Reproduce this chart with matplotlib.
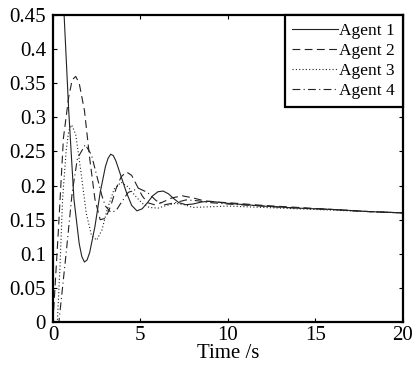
import matplotlib
matplotlib.use("Agg")
import matplotlib.pyplot as plt

# values
t1 = [0, 0.3, 0.6, 0.9, 1.2, 1.5, 1.65, 1.8, 1.95, 2.1, 2.4, 2.7, 3.0, 3.15, 3.3, 3.45, 3.6,
      3.9, 4.2, 4.5, 4.8, 5.1, 5.4, 5.7, 6.0, 6.3, 6.6, 6.9, 7.2, 7.6, 8.0, 8.5, 9, 10,
      12, 14, 16, 18, 20]
agent1 = [0.70, 0.62, 0.47, 0.31, 0.18, 0.115, 0.096, 0.088, 0.091, 0.102, 0.14, 0.19,
          0.228, 0.240, 0.246, 0.244, 0.236, 0.213, 0.19, 0.171, 0.163, 0.166, 0.175,
          0.185, 0.191, 0.192, 0.188, 0.181, 0.175, 0.172, 0.173, 0.176, 0.177, 0.174,
          0.170, 0.167, 0.165, 0.162, 0.160]

t2 = [0, 0.3, 0.6, 0.9, 1.1, 1.3, 1.5, 1.8, 2.1, 2.4, 2.7, 3.0, 3.3, 3.6, 3.9, 4.2, 4.5,
      4.8, 5.1, 5.4, 5.8, 6.2, 6.8, 7.4, 8.0, 8.6, 9.2, 10, 12, 14, 16, 18, 20]
agent2 = [0.0, 0.13, 0.27, 0.33, 0.355, 0.36, 0.35, 0.31, 0.24, 0.18, 0.15, 0.152, 0.17,
          0.195, 0.213, 0.22, 0.215, 0.20, 0.185, 0.175, 0.172, 0.175, 0.182, 0.185, 0.182,
          0.178, 0.176, 0.175, 0.171, 0.168, 0.165, 0.162, 0.160]

t3 = [0, 0.25, 0.4, 0.55, 0.75, 0.9, 1.07, 1.3, 1.6, 1.9, 2.2, 2.5, 2.8, 3.1, 3.5, 3.9,
      4.3, 4.7, 5.1, 5.5, 6.0, 6.5, 7.0, 7.5, 8.0, 9, 10, 12, 14, 16, 18, 20]
agent3 = [-0.05, 0.0, 0.08, 0.18, 0.25, 0.28, 0.289, 0.275, 0.22, 0.16, 0.127, 0.12, 0.135,
          0.165, 0.195, 0.205, 0.198, 0.185, 0.174, 0.168, 0.167, 0.171, 0.174, 0.172,
          0.168, 0.169, 0.170, 0.168, 0.166, 0.164, 0.162, 0.160]

t4 = [0, 0.34, 0.75, 1.1, 1.4, 1.85, 2.2, 2.5, 2.8, 3.0, 3.3, 3.6, 3.9, 4.3, 4.9, 5.4,
      5.9, 6.4, 7.0, 7.6, 8.2, 9, 10, 12, 14, 16, 18, 20]
agent4 = [-0.05, 0.0, 0.10, 0.19, 0.24, 0.26, 0.245, 0.215, 0.185, 0.17, 0.161, 0.163,
          0.175, 0.19, 0.196, 0.19, 0.178, 0.172, 0.175, 0.179, 0.178, 0.175, 0.173,
          0.170, 0.167, 0.165, 0.162, 0.160]

labels = ["Agent 1", "Agent 2", "Agent 3", "Agent 4"]
xticks = [0, 5, 10, 15, 20]
yticks = [0, 0.05, 0.1, 0.15, 0.2, 0.25, 0.3, 0.35, 0.4, 0.45]
yticklabels = ["0", "0.05", "0.1", "0.15", "0.2", "0.25", "0.3", "0.35", "0.4", "0.45"]

plt.rcParams["font.family"] = ["Liberation Serif", "DejaVu Serif"]
plt.rcParams["font.size"] = 15

fig = plt.figure(figsize=(4.17, 3.66), dpi=100)
ax = fig.add_axes([0.127, 0.120, 0.839, 0.839])

lc = "#222222"
ax.plot(t1, agent1, color=lc, lw=0.8, linestyle="-", label=labels[0])
ax.plot(t2, agent2, color=lc, lw=0.8, linestyle=(0, (7, 4)), label=labels[1])
ax.plot(t3, agent3, color=lc, lw=0.8, linestyle=(0, (1, 2)), label=labels[2])
ax.plot(t4, agent4, color=lc, lw=0.8, linestyle=(0, (7, 3, 1, 3)), label=labels[3])

ax.set_xlim(0, 20)
ax.set_ylim(0, 0.45)
ax.set_xticks(xticks)
ax.set_xticklabels([str(v) for v in xticks])
ax.set_yticks(yticks)
ax.set_yticklabels(yticklabels)
ax.tick_params(direction="in", top=True, right=True, length=3, width=0.8)
ax.tick_params(axis="x", pad=3)
ax.tick_params(axis="y", pad=5)
for s in ax.spines.values():
    s.set_linewidth(1.6)

ax.set_xlabel("Time /s", labelpad=-1)

leg = ax.legend(loc="upper right", borderaxespad=0, fancybox=False, edgecolor="black",
                framealpha=1, handlelength=2.6, handletextpad=0.1, labelspacing=0.22,
                borderpad=0.45, fontsize=12.5)
leg.get_frame().set_linewidth(1.6)

fig.savefig("out.png", dpi=100)
